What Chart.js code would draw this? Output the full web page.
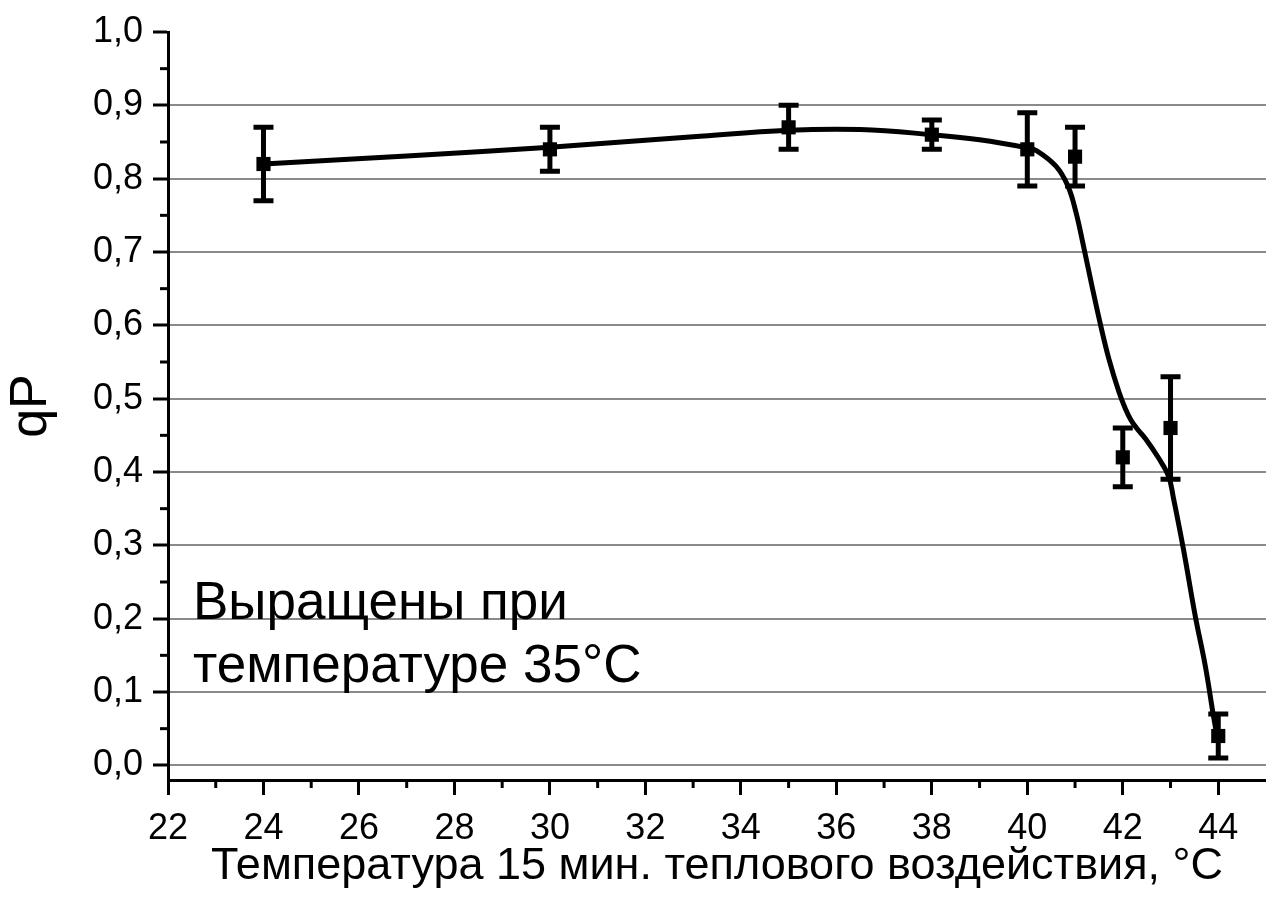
<!DOCTYPE html>
<html>
<head>
<meta charset="utf-8">
<script src="https://cdn.jsdelivr.net/npm/chart.js@4"></script>
<style>
  body { margin: 0; background: #fff; overflow: hidden; }
  canvas { display: block; }
</style>
</head>
<body>
<canvas id="chart" width="1266" height="898"></canvas>
<script>
// measured points with error bars
const temps = [24, 30, 35, 38, 40, 41, 42, 43, 44];
const qP = [0.82, 0.84, 0.87, 0.86, 0.84, 0.83, 0.42, 0.46, 0.04];
const qPErr = [0.05, 0.03, 0.03, 0.02, 0.05, 0.04, 0.04, 0.07, 0.03];

// smoothed curve
const curveX = [24, 27, 30, 33, 35, 36.5, 38, 39, 40, 40.2, 40.6, 40.85, 41.02, 41.19, 41.37, 41.54, 41.71, 41.92, 42.05, 42.17, 42.3, 42.48, 42.75, 42.96, 43.06, 43.27, 43.52, 43.73, 43.9, 43.96];
const curveY = [0.82, 0.831, 0.843, 0.857, 0.866, 0.867, 0.86, 0.853, 0.842, 0.838, 0.817, 0.79, 0.754, 0.704, 0.649, 0.599, 0.554, 0.509, 0.487, 0.471, 0.459, 0.445, 0.419, 0.394, 0.365, 0.295, 0.203, 0.135, 0.067, 0.045];

const xTicks = [22, 24, 26, 28, 30, 32, 34, 36, 38, 40, 42, 44];
const yTicks = [0, 0.1, 0.2, 0.3, 0.4, 0.5, 0.6, 0.7, 0.8, 0.9, 1.0];

const xTitle = "Температура 15 мин. теплового воздействия, °C";
const yTitle = "qP";
const noteLines = ["Выращены при", "температуре 35°C"];

const FONT = "'Liberation Sans', Arial, sans-serif";

// minor ticks between the labelled ones
const minorTicks = {
  id: "minorTicks",
  afterDraw(chart) {
    const { ctx, scales: { x, y } } = chart;
    ctx.save();
    ctx.strokeStyle = "#000";
    ctx.lineWidth = 3;
    for (let v = 23; v < x.max; v += 2) {
      const px = x.getPixelForValue(v);
      ctx.beginPath();
      ctx.moveTo(px, x.top);
      ctx.lineTo(px, x.top + 8);
      ctx.stroke();
    }
    for (let v = 0.05; v < 1; v += 0.1) {
      const py = y.getPixelForValue(v);
      ctx.beginPath();
      ctx.moveTo(y.right, py);
      ctx.lineTo(y.right - 8, py);
      ctx.stroke();
    }
    ctx.restore();
  }
};

const errorBars = {
  id: "errorBars",
  afterDatasetsDraw(chart) {
    const { ctx, scales: { x, y } } = chart;
    ctx.save();
    ctx.strokeStyle = "#000";
    ctx.lineWidth = 5;
    temps.forEach((t, i) => {
      const px = x.getPixelForValue(t);
      const top = y.getPixelForValue(qP[i] + qPErr[i]);
      const bot = y.getPixelForValue(qP[i] - qPErr[i]);
      ctx.beginPath();
      ctx.moveTo(px, top);
      ctx.lineTo(px, bot);
      ctx.moveTo(px - 10, top);
      ctx.lineTo(px + 10, top);
      ctx.moveTo(px - 10, bot);
      ctx.lineTo(px + 10, bot);
      ctx.stroke();
    });
    ctx.restore();
  }
};

const note = {
  id: "note",
  afterDraw(chart) {
    const { ctx, chartArea } = chart;
    ctx.save();
    ctx.fillStyle = "#000";
    ctx.font = "53px " + FONT;
    ctx.textBaseline = "alphabetic";
    ctx.fillText(noteLines[0], chartArea.left + 25, 619);
    ctx.fillText(noteLines[1], chartArea.left + 25, 682);
    ctx.restore();
  }
};

new Chart(document.getElementById("chart"), {
  type: "scatter",
  data: {
    datasets: [
      {
        type: "line",
        data: curveX.map((v, i) => ({ x: v, y: curveY[i] })),
        borderColor: "#000",
        borderWidth: 5,
        pointRadius: 0,
        tension: 0.4,
        fill: false
      },
      {
        data: temps.map((v, i) => ({ x: v, y: qP[i] })),
        pointStyle: "rect",
        pointRadius: 10,
        backgroundColor: "#000",
        borderColor: "#000",
        borderWidth: 0
      }
    ]
  },
  options: {
    responsive: false,
    animation: false,
    layout: { autoPadding: false, padding: { top: 32, right: 0, left: 0, bottom: 0 } },
    plugins: { legend: { display: false }, tooltip: { enabled: false } },
    scales: {
      x: {
        type: "linear",
        min: 22,
        max: 45,
        afterBuildTicks: (s) => { s.ticks = xTicks.map(v => ({ value: v })); },
        afterFit: (s) => { s.height = 118; s.paddingLeft = 0; s.paddingRight = 0; },
        grid: { drawOnChartArea: false, tickColor: "#000", tickLength: 15, tickWidth: 3 },
        border: { color: "#000", width: 3 },
        ticks: { color: "#000", font: { family: FONT, size: 36 }, padding: 12, maxRotation: 0 },
        title: { display: true, text: xTitle, color: "#000", font: { family: FONT, size: 45 }, padding: { top: 0, bottom: 4 } }
      },
      y: {
        min: -0.02,
        max: 1.0,
        afterBuildTicks: (s) => { s.ticks = yTicks.map(v => ({ value: v })); },
        afterFit: (s) => { s.width = 168; s.paddingTop = 0; s.paddingBottom = 0; },
        grid: {
          color: (c) => (c.tick && c.tick.value >= 0.99 ? "rgba(0,0,0,0)" : "#8a8a8a"),
          lineWidth: 2,
          tickColor: "#000",
          tickLength: 15,
          tickWidth: 3
        },
        border: { color: "#000", width: 3 },
        ticks: {
          color: "#000",
          font: { family: FONT, size: 36 },
          padding: 10,
          callback: (v) => v.toFixed(1).replace(".", ",")
        },
        title: { display: true, text: yTitle, color: "#000", font: { family: FONT, size: 52 }, padding: { top: 0, bottom: 10 } }
      }
    }
  },
  plugins: [minorTicks, errorBars, note]
});
</script>
</body>
</html>
